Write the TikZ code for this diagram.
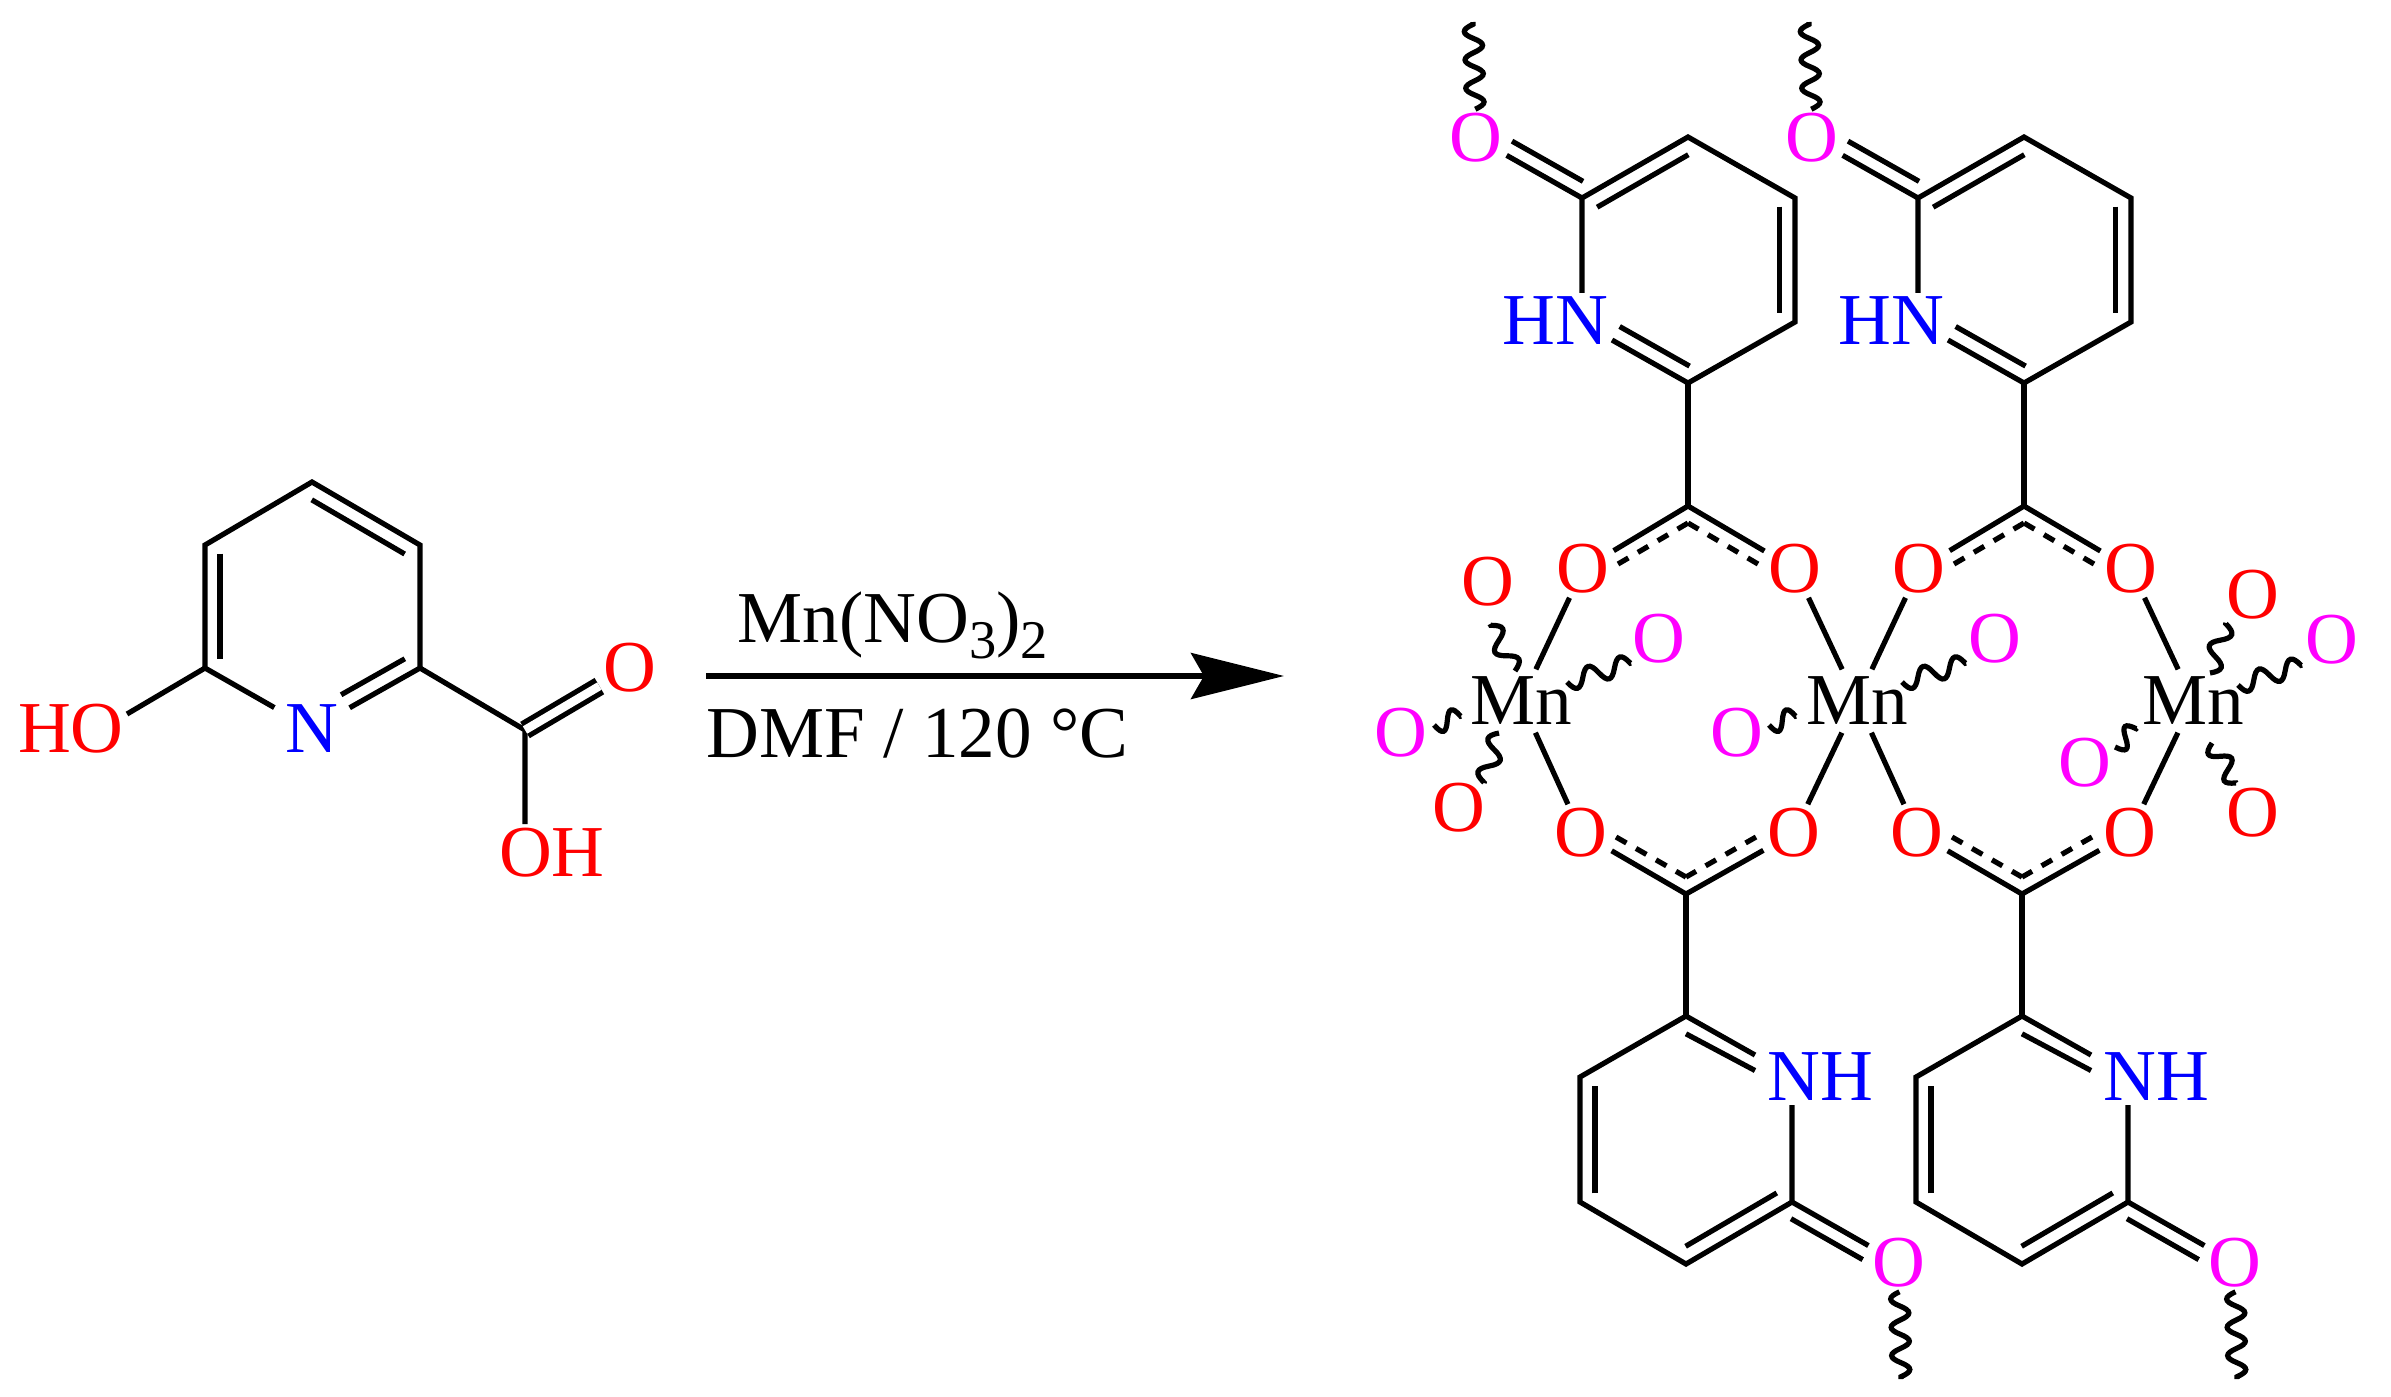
\documentclass[tikz,border=0pt]{standalone}
\usepackage{fontspec}
\setmainfont{Liberation Serif}
\usetikzlibrary{arrows.meta,calc,decorations}

\definecolor{oxpink}{RGB}{255,0,255}

% Round sine-like wave, one half wave per state
\pgfdeclaredecoration{wiggle}{up}{
    \state{up}[switch if less than=+.45\pgfdecorationsegmentlength to final,width=+.5\pgfdecorationsegmentlength,next state=down]{
        \pgfpathcurveto{\pgfqpoint{.18\pgfdecorationsegmentlength}{1.33\pgfdecorationsegmentamplitude}}{\pgfqpoint{.32\pgfdecorationsegmentlength}{1.33\pgfdecorationsegmentamplitude}}{\pgfqpoint{.5\pgfdecorationsegmentlength}{0pt}}
    }
    \state{down}[switch if less than=+.45\pgfdecorationsegmentlength to final,width=+.5\pgfdecorationsegmentlength,next state=up]{
        \pgfpathcurveto{\pgfqpoint{.18\pgfdecorationsegmentlength}{-1.33\pgfdecorationsegmentamplitude}}{\pgfqpoint{.32\pgfdecorationsegmentlength}{-1.33\pgfdecorationsegmentamplitude}}{\pgfqpoint{.5\pgfdecorationsegmentlength}{0pt}}
    }
    \state{final}{\pgfpathlineto{\pgfpointdecoratedpathlast}}
}

\tikzset{
    bond/.style={line width=.052cm},
    dblbond/.style={bond,double,double distance=.085cm},
    dashbond/.style={bond,dash pattern=on .12cm off .11cm},
    wavy/.style={bond,decorate,decoration={wiggle,mirror,amplitude=.09cm,segment length=#1}},
    atom/.style={font=\fontsize{20.8}{24}\selectfont,inner sep=1pt},
    oxy/.style={atom,text=red},
    oxm/.style={atom,text=oxpink},
    nit/.style={atom,text=blue},
    metal/.style={atom,inner sep=2pt}
}

% Second line of a double bond, beside the stretch #3 to #4 of the bond #1 to #2
\newcommand{\inbond}[5]{\draw[bond] ($(#1)!#3!(#2)!#5!90:(#2)$) -- ($(#1)!#4!(#2)!#5!90:(#2)$);}
% Subscript digit of the reagent
\newcommand{\lowdigit}[1]{\raisebox{-4.7pt}{\fontsize{15.5}{16}\selectfont #1}}

% Ligand above the metal row
\newcommand{\upligand}[2]{
    \begin{scope}[shift={(#1,0)},name prefix=#2-]
        \coordinate (r1) at (1582,198);
        \coordinate (r2) at (1688,137);
        \coordinate (r3) at (1795,198);
        \coordinate (r4) at (1795,322);
        \coordinate (r5) at (1688,383);
        \coordinate (rn) at (1612,340);
        \coordinate (cc) at (1688,506);
        \coordinate (tail) at (1473,22);
        \coordinate (dl) at (1618,564);
        \coordinate (da) at (1688,523);
        \coordinate (dr) at (1758,564);
        \node[nit] (hn) at (1555,321) {HN};
        \node[oxm] (ok) at (1476,138) {O};
        \node[oxy] (ol) at (1583,569) {O};
        \node[oxy] (or) at (1795,569) {O};
        \draw[bond] (r1 |- hn.north) -- (r1) -- (r2) -- (r3) -- (r4) -- (r5) -- (rn);
        \inbond{r1}{r2}{.07}{.93}{-.155cm}
        \inbond{r3}{r4}{.07}{.93}{-.155cm}
        \inbond{rn}{r5}{0}{.92}{.155cm}
        \draw[bond] (r1) -- (ok);
        \inbond{r1}{ok}{.06}{.73}{-.15cm}
        \draw[wavy=.283cm] (ok) -- (tail);
        \draw[bond] (r5) -- (cc);
        \draw[bond] (ol) -- (cc) -- (or);
        \draw[dashbond] (dl) -- (da);
        \draw[dashbond] (dr) -- (da);
    \end{scope}
}

% Ligand below the metal row
\newcommand{\downligand}[2]{
    \begin{scope}[shift={(#1,0)},name prefix=#2-]
        \coordinate (r1) at (1792,1202);
        \coordinate (r2) at (1686,1264);
        \coordinate (r3) at (1580,1202);
        \coordinate (r4) at (1580,1077);
        \coordinate (r5) at (1686,1016);
        \coordinate (rn) at (1755,1055);
        \coordinate (cc) at (1686,894);
        \coordinate (tail) at (1901,1379);
        \coordinate (dl) at (1616,837);
        \coordinate (da) at (1686,877);
        \coordinate (dr) at (1756,837);
        \node[nit] (nh) at (1820,1077) {NH};
        \node[oxm] (ok) at (1899,1263) {O};
        \node[oxy] (ol) at (1581,833) {O};
        \node[oxy] (or) at (1794,833) {O};
        \draw[bond] (r1 |- nh.south) -- (r1) -- (r2) -- (r3) -- (r4) -- (r5) -- (rn);
        \inbond{r2}{r1}{.07}{.93}{.155cm}
        \inbond{r3}{r4}{.07}{.93}{-.15cm}
        \inbond{r5}{rn}{.11}{1}{-.155cm}
        \draw[bond] (r1) -- (ok);
        \inbond{r1}{ok}{.06}{.73}{-.15cm}
        \draw[wavy=.283cm] (ok) -- (tail);
        \draw[bond] (r5) -- (cc);
        \draw[bond] (ol) -- (cc) -- (or);
        \draw[dashbond] (dl) -- (da);
        \draw[dashbond] (dr) -- (da);
    \end{scope}
}

\begin{document}
\begin{tikzpicture}[x=0.01cm,y=-0.01cm]
    \useasboundingbox (0,0) rectangle (2391,1396);

    % Draw the starting acid
    \coordinate (a1) at (312,482);
    \coordinate (a2) at (420,545);
    \coordinate (a3) at (420,668);
    \coordinate (a5) at (205,668);
    \coordinate (a6) at (205,545);
    \coordinate (acid) at (525,730);
    \coordinate (hoend) at (127,714);
    \node[nit,inner sep=3pt] (an) at (312,729) {N};
    \node[oxy] (ho) at (71,729) {HO};
    \node[oxy] (oh) at (552,853) {OH};
    \node[oxy] (ao) at (630,668) {O};
    \draw[bond] (an) -- (a5) -- (a6) -- (a1) -- (a2) -- (a3) -- (an);
    \inbond{a1}{a2}{.07}{.93}{-.155cm}
    \inbond{a6}{a5}{.07}{.93}{.15cm}
    \inbond{a3}{an}{.07}{.66}{-.155cm}
    \draw[bond] (a5) -- (hoend);
    \draw[bond] (a3) -- (acid) -- (acid |- oh.north);
    \draw[dblbond] (acid) -- (ao);

    % Draw the reaction arrow and its conditions
    \coordinate (arrowa) at (706,676);
    \coordinate (arrowb) at (1284,676);
    \draw[bond,-{Stealth[length=.93cm,width=.46cm,inset=.13cm]}] (arrowa) -- (arrowb);
    \node[atom,anchor=base west,inner sep=0pt] (salt) at (737,642) {Mn(NO\lowdigit{3})\lowdigit{2}};
    \node[atom,anchor=base west,inner sep=0pt] (cond) at (706,757) {DMF / 120 °C};

    % Draw the four ligands
    \upligand{0}{ua}
    \upligand{336}{ub}
    \downligand{0}{da}
    \downligand{336}{db}

    % Draw the metal row and its bonds to the carboxylates
    \node[metal] (mna) at (1521,701) {Mn};
    \node[metal] (mnb) at (1857,701) {Mn};
    \node[metal] (mnc) at (2193,701) {Mn};
    \draw[bond] (mna) -- (ua-ol);
    \draw[bond] (mna) -- (da-ol);
    \draw[bond] (mnb) -- (ua-or);
    \draw[bond] (mnb) -- (da-or);
    \draw[bond] (mnb) -- (ub-ol);
    \draw[bond] (mnb) -- (db-ol);
    \draw[bond] (mnc) -- (ub-or);
    \draw[bond] (mnc) -- (db-or);

    % Draw the loose oxygens on the first metal
    \node[oxy] (o1) at (1488,582) {O};
    \node[oxm] (o2) at (1659,639) {O};
    \node[oxm] (o3) at (1401,733) {O};
    \node[oxy] (o4) at (1459,808) {O};
    \coordinate (w1a) at (1515,671); \coordinate (w1b) at (1490,624);
    \coordinate (w2a) at (1567,682); \coordinate (w2b) at (1631,663);
    \coordinate (w3a) at (1434,725); \coordinate (w3b) at (1461,716);
    \coordinate (w4a) at (1499,733); \coordinate (w4b) at (1484,783);
    \draw[wavy=.345cm] (w1a) -- (w1b);
    \draw[wavy=.33cm] (w2a) -- (w2b);
    \draw[wavy=.28cm] (w3a) -- (w3b);
    \draw[wavy=.345cm] (w4a) -- (w4b);

    % Draw the loose oxygens on the second metal
    \node[oxm] (o5) at (1737,733) {O};
    \node[oxm] (o6) at (1995,639) {O};
    \coordinate (w5a) at (1769,725); \coordinate (w5b) at (1796,716);
    \coordinate (w6a) at (1902,682); \coordinate (w6b) at (1966,663);
    \draw[wavy=.28cm] (w5a) -- (w5b);
    \draw[wavy=.33cm] (w6a) -- (w6b);

    % Draw the loose oxygens on the third metal
    \node[oxy] (o7) at (2253,595) {O};
    \node[oxm] (o8) at (2332,640) {O};
    \node[oxm] (o9) at (2085,763) {O};
    \node[oxy] (o10) at (2253,813) {O};
    \coordinate (w7a) at (2210,673); \coordinate (w7b) at (2226,623);
    \coordinate (w8a) at (2238,685); \coordinate (w8b) at (2302,665);
    \coordinate (w9a) at (2115,747); \coordinate (w9b) at (2137,728);
    \coordinate (w10a) at (2212,743); \coordinate (w10b) at (2236,783);
    \draw[wavy=.345cm] (w7a) -- (w7b);
    \draw[wavy=.33cm] (w8a) -- (w8b);
    \draw[wavy=.28cm] (w9a) -- (w9b);
    \draw[wavy=.31cm] (w10a) -- (w10b);

\end{tikzpicture}
\end{document}
